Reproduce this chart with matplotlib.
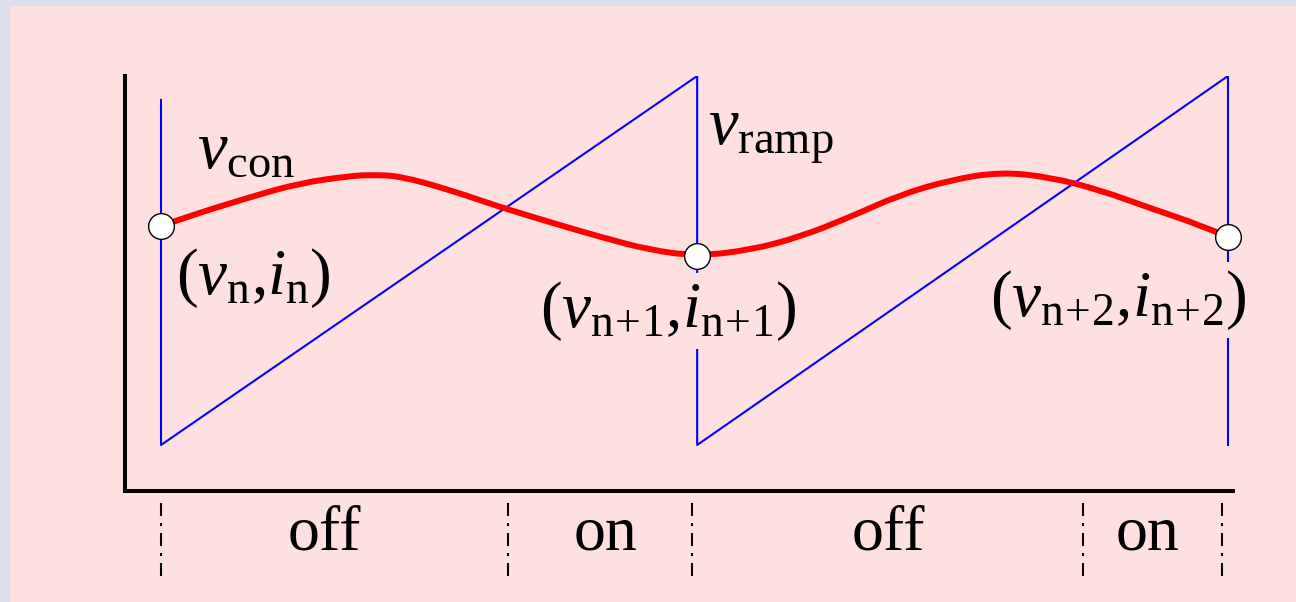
import matplotlib
matplotlib.use("Agg")
import matplotlib.pyplot as plt
from matplotlib.patches import Rectangle, PathPatch
from matplotlib.path import Path

# fonts: Times-like serif for text and math
plt.rcParams["font.family"] = "Liberation Serif"
plt.rcParams["mathtext.fontset"] = "custom"
plt.rcParams["mathtext.rm"] = "Liberation Serif"
plt.rcParams["mathtext.it"] = "Liberation Serif:italic"
plt.rcParams["lines.scale_dashes"] = False

# data (time in switching periods, voltage normalised to ramp height)
t_ramp = [0, 0, 1.005, 1.005, 2.0, 2.0]
v_ramp = [0.935, 0, 1, 0, 1, 0]

t_con = [0, 0.041, 0.167, 0.261, 0.354, 0.394, 0.448, 0.542, 0.635, 0.729, 0.823,
         0.917, 1.005, 1.104, 1.198, 1.292, 1.385, 1.479, 1.573, 1.666, 1.760,
         1.854, 1.948, 2.0]
v_con = [0.593, 0.615, 0.672, 0.710, 0.729, 0.732, 0.729, 0.691, 0.645, 0.604, 0.564,
         0.528, 0.512, 0.528, 0.564, 0.618, 0.678, 0.718, 0.740, 0.726, 0.691,
         0.642, 0.596, 0.564]

t_samples = [0, 1.005, 2.0]
v_samples = [0.593, 0.512, 0.564]
sample_labels = [r"$(v_{\rm n}{,}i_{\rm n})$",
                 r"$(v_{\rm n\!+\!1}{,}i_{\rm n\!+\!1})$",
                 r"$(v_{\rm n\!+\!2}{,}i_{\rm n\!+\!2})$"]
sample_label_pos = [(0.174, 0.4526), (0.950, 0.363), (1.794, 0.393)]

t_switch = [0, 0.650, 0.995, 1.728, 1.989]
state_labels = ["off", "on", "off", "on"]
state_pos = [0.307, 0.834, 1.363, 1.850]

PINK = "#ffe0e0"

fig = plt.figure(figsize=(12.96, 6.02), dpi=100, facecolor="#dcdeee")
fig.patches.append(Rectangle((10 / 1296, 0), 1, 1 - 6 / 602, transform=fig.transFigure,
                             facecolor=PINK, edgecolor="none", zorder=-1))

ax = fig.add_axes([125 / 1296, 1 - 491 / 602, (1233 - 125) / 1296, (491 - 76) / 602])
ax.set_facecolor("none")
ax.set_xlim(-0.0675, 2.0094)
ax.set_ylim(-0.1247, 1.0)
for s in ["top", "right"]:
    ax.spines[s].set_visible(False)
for s in ["left", "bottom"]:
    ax.spines[s].set_linewidth(2.9)
ax.set_xticks([])
ax.set_yticks([])

ax.plot(t_ramp, v_ramp, color="#0000ff", lw=1.5, zorder=2)

# smooth control curve: quadratic bezier through the read points
pts = list(zip(t_con, v_con))
verts = [pts[0]]
codes = [Path.MOVETO]
for i in range(1, len(pts) - 2):
    mid = ((pts[i][0] + pts[i + 1][0]) / 2, (pts[i][1] + pts[i + 1][1]) / 2)
    verts += [pts[i], mid]
    codes += [Path.CURVE3, Path.CURVE3]
verts += [pts[-2], pts[-1]]
codes += [Path.CURVE3, Path.CURVE3]
ax.add_patch(PathPatch(Path(verts, codes), facecolor="none", edgecolor="#ff0000",
                       lw=4.3, capstyle="butt", zorder=3))

ax.plot(t_samples, v_samples, "o", ms=18.5, mfc="white", mec="black", mew=1.0,
        zorder=5, clip_on=False)

ax.text(0.0675, 0.7507, r"$v_{\rm con}$", fontsize=48, ha="left", va="baseline")
ax.text(1.0253, 0.813, r"$v_{\rm ramp}$", fontsize=48, ha="left", va="baseline")
for lab, (x, y) in zip(sample_labels, sample_label_pos):
    ax.text(x, y, lab, fontsize=47, ha="center", va="center", zorder=4,
            bbox=dict(facecolor=PINK, edgecolor="none", pad=4))

for t in t_switch:
    ax.plot([t, t], [-0.157, -0.358], color="black", lw=1.5, clip_on=False,
            dashes=(9.4, 5, 2.2, 5))
for lab, x in zip(state_labels, state_pos):
    ax.text(x, -0.282, lab, fontsize=46, ha="center", va="baseline")

fig.savefig("out.png", dpi=100, facecolor=fig.get_facecolor())
